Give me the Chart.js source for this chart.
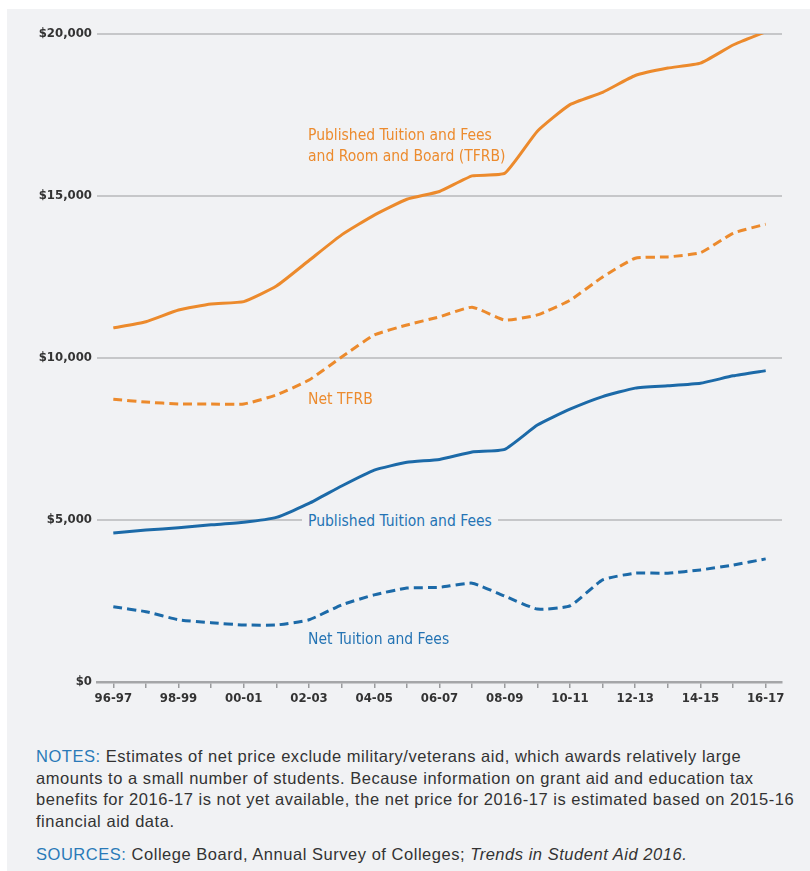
<!DOCTYPE html>
<html>
<head>
<meta charset="utf-8">
<script src="https://cdn.jsdelivr.net/npm/chart.js@4.4.1/dist/chart.umd.min.js"></script>
<style>
  html, body { margin: 0; padding: 0; background: #fff; }
  body { width: 810px; height: 871px; position: relative; overflow: hidden; }
  #panel { position: absolute; left: 7px; top: 9px; right: 0; bottom: 0; background: #f1f2f4; }
  #wrap { position: absolute; left: 0; top: 0; width: 810px; height: 720px; }
  .lbl { position: absolute; font-family: "DejaVu Sans Condensed", sans-serif; font-size: 15.5px; line-height: 21px; white-space: nowrap; }
  .orange { color: #ec8b2e; }
  .blue { color: #2574b4; }
  .txt { position: absolute; left: 36px; font-family: "Liberation Sans", Arial, sans-serif; font-size: 16.5px; letter-spacing: 0.53px; line-height: 21.5px; color: #333; white-space: nowrap; }
  .txt .hd { color: #2a7ab8; }
</style>
</head>
<body>
<div id="panel"></div>
<div id="wrap"><canvas id="priceChart"></canvas></div>

<div class="lbl orange" style="left:308px; top:125px;">Published Tuition and Fees<br>and Room and Board (TFRB)</div>
<div class="lbl orange" style="left:308px; top:389px;">Net TFRB</div>
<div class="lbl blue" style="left:302px; top:511px; background:#f1f2f4; padding:0 6px;">Published Tuition and Fees</div>
<div class="lbl blue" style="left:308px; top:629px;">Net Tuition and Fees</div>

<div class="txt" style="top:746px;"><span class="hd">NOTES:</span> Estimates of net price exclude military/veterans aid, which awards relatively large<br>amounts to a small number of students. Because information on grant aid and education tax<br>benefits for 2016-17 is not yet available, the net price for 2016-17 is estimated based on 2015-16<br>financial aid data.</div>
<div class="txt" style="top:844px;"><span class="hd">SOURCES:</span> College Board, Annual Survey of Colleges; <i>Trends in Student Aid 2016.</i></div>

<script>
// academic years 1996-97 .. 2016-17
var years = ['96-97', '97-98', '98-99', '99-00', '00-01', '01-02', '02-03', '03-04', '04-05', '05-06',
             '06-07', '07-08', '08-09', '09-10', '10-11', '11-12', '12-13', '13-14', '14-15', '15-16', '16-17'];

// values in dollars
var publishedTFRB = [10930, 11120, 11480, 11670, 11740, 12220, 13010, 13800, 14410, 14900,
                     15140, 15620, 15700, 17000, 17820, 18200, 18720, 18950, 19100, 19660, 20070];
var netTFRB       = [8730, 8640, 8580, 8580, 8580, 8860, 9320, 10030, 10710, 11020,
                     11270, 11570, 11170, 11330, 11780, 12500, 13080, 13120, 13250, 13850, 14130];
var publishedTF   = [4600, 4690, 4760, 4850, 4930, 5080, 5510, 6050, 6540, 6780,
                     6870, 7100, 7180, 7930, 8420, 8810, 9070, 9140, 9220, 9450, 9610];
var netTF         = [2320, 2170, 1920, 1830, 1760, 1760, 1920, 2380, 2690, 2900,
                     2920, 3050, 2650, 2250, 2350, 3150, 3360, 3360, 3460, 3610, 3800];

var yTicks = [0, 5000, 10000, 15000, 20000];

var ORANGE = '#ec8a2c';
var BLUE = '#1c6aa8';

function lineSet(label, data, color, dashed) {
  return {
    label: label,
    data: data,
    borderColor: color,
    backgroundColor: color,
    borderWidth: 3,
    borderDash: dashed ? [9, 5] : [],
    pointRadius: 0,
    tension: 0.15,
    fill: false
  };
}

var axisFont = { family: '"DejaVu Sans Condensed", sans-serif', size: 13, weight: 'bold' };

var ctx = document.getElementById('priceChart').getContext('2d');
new Chart(ctx, {
  type: 'line',
  data: {
    labels: years,
    datasets: [
      lineSet('Published Tuition and Fees and Room and Board (TFRB)', publishedTFRB, ORANGE, false),
      lineSet('Net TFRB', netTFRB, ORANGE, true),
      lineSet('Published Tuition and Fees', publishedTF, BLUE, false),
      lineSet('Net Tuition and Fees', netTF, BLUE, true)
    ]
  },
  options: {
    responsive: true,
    maintainAspectRatio: false,
    animation: false,
    layout: { padding: { top: 34, right: 28, left: 0, bottom: 0 } },
    plugins: {
      legend: { display: false },
      tooltip: { enabled: false }
    },
    scales: {
      x: {
        offset: true,
        grid: { drawOnChartArea: false, drawTicks: true, tickLength: 6, color: '#9a9b9d', lineWidth: 1.5 },
        border: { display: true, color: '#a5a6a8', width: 2.5 },
        ticks: {
          autoSkip: false,
          maxRotation: 0,
          padding: 3,
          color: '#333',
          font: axisFont,
          callback: function (v, i) { return i % 2 ? '' : years[i]; }
        },
        afterFit: function (scale) { scale.height = 38; }
      },
      y: {
        min: 0,
        max: 20000,
        afterBuildTicks: function (scale) { scale.ticks = yTicks.map(function (v) { return { value: v }; }); },
        grid: { drawTicks: false, color: '#c6c7c9', lineWidth: 2 },
        border: { display: false },
        ticks: {
          padding: 5,
          color: '#333',
          font: axisFont,
          callback: function (v) { return '$' + v.toLocaleString('en-US'); }
        },
        afterFit: function (scale) { scale.width = 97; }
      }
    }
  }
});
</script>
</body>
</html>
